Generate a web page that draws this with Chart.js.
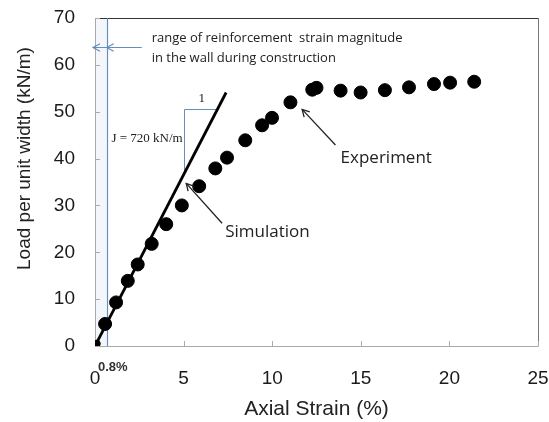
<!DOCTYPE html>
<html><head><meta charset="utf-8">
<script src="https://cdn.jsdelivr.net/npm/chart.js@4"></script>
<style>html,body{margin:0;padding:0;background:#fff}#wrap{width:549px;height:422px}</style>
</head><body><div id="wrap"><canvas id="c" width="549" height="422"></canvas></div>
<script>
const expStrain = [0.1, 0.57, 1.19, 1.85, 2.41, 3.2, 4.02, 4.9, 5.88, 6.79, 7.45, 8.48, 9.43, 9.99, 11.03, 12.26, 12.5, 13.86, 14.99, 16.36, 17.72, 19.13, 20.04, 21.4];
const expLoad   = [0.5, 4.7, 9.3, 13.9, 17.4, 21.8, 26.0, 30.0, 34.1, 37.9, 40.2, 43.9, 47.1, 48.7, 52.0, 54.7, 55.1, 54.5, 54.1, 54.6, 55.2, 55.9, 56.2, 56.4];
const simStrain = [0, 7.4];
const simLoad   = [0, 54.1];
const xTicks = [0, 5, 10, 15, 20, 25];
const yTicks = [0, 10, 20, 30, 40, 50, 60, 70];
const constructionStrain = 0.66;
const yTitle = 'Load per unit width (kN/m)';
const xTitle = 'Axial Strain (%)';

const expPts = expStrain.map((x, i) => ({x, y: expLoad[i]}));
const simPts = simStrain.map((x, i) => ({x, y: simLoad[i]}));

const blue = 'rgb(105,140,190)';
const sans = '"Open Sans", "Liberation Sans", sans-serif';
const arial = '"Liberation Sans", Arial, sans-serif';

function arrowHead(ctx, x1, y1, x2, y2, size) {
  const a = Math.atan2(y2 - y1, x2 - x1);
  ctx.beginPath();
  ctx.moveTo(x2 - size * Math.cos(a - 0.5), y2 - size * Math.sin(a - 0.5));
  ctx.lineTo(x2, y2);
  ctx.lineTo(x2 - size * Math.cos(a + 0.5), y2 - size * Math.sin(a + 0.5));
  ctx.stroke();
}

const decor = {
  id: 'decor',
  beforeDatasetsDraw(chart) {
    const {ctx, chartArea: ca, scales: {x, y}} = chart;
    ctx.save();
    const xc = x.getPixelForValue(constructionStrain);
    ctx.fillStyle = 'rgba(215,228,242,0.3)';
    ctx.fillRect(ca.left, ca.top, xc - ca.left, ca.bottom - ca.top);
    ctx.lineWidth = 1;
    ctx.strokeStyle = '#aaa';
    ctx.beginPath();
    ctx.moveTo(ca.left + 0.5, ca.top); ctx.lineTo(ca.left + 0.5, ca.bottom + 0.5); ctx.lineTo(ca.right, ca.bottom + 0.5);
    ctx.stroke();
    ctx.strokeStyle = '#333';
    ctx.beginPath(); ctx.moveTo(ca.left, ca.top + 0.5); ctx.lineTo(ca.right + 0.5, ca.top + 0.5); ctx.stroke();
    ctx.strokeStyle = '#777';
    ctx.beginPath(); ctx.moveTo(ca.right + 0.5, ca.top); ctx.lineTo(ca.right + 0.5, ca.bottom + 0.5); ctx.stroke();
    ctx.strokeStyle = '#aaa';
    xTicks.forEach(v => { const p = Math.round(x.getPixelForValue(v)) + 0.5; ctx.beginPath(); ctx.moveTo(p, ca.bottom); ctx.lineTo(p, ca.bottom - 5); ctx.stroke(); });
    yTicks.forEach(v => { const p = Math.round(y.getPixelForValue(v)) + 0.5; ctx.beginPath(); ctx.moveTo(ca.left, p); ctx.lineTo(ca.left + 5, p); ctx.stroke(); });
    ctx.strokeStyle = blue;
    ctx.lineWidth = 1.2;
    ctx.beginPath(); ctx.moveTo(Math.round(xc) + 0.5, ca.top); ctx.lineTo(Math.round(xc) + 0.5, ca.bottom); ctx.stroke();
    const ya = Math.round(y.getPixelForValue(63.9)) + 0.5;
    ctx.beginPath(); ctx.moveTo(x.getPixelForValue(0) - 2, ya); ctx.lineTo(x.getPixelForValue(2.64), ya); ctx.stroke();
    arrowHead(ctx, x.getPixelForValue(1), ya, x.getPixelForValue(0) - 2, ya, 8);
    arrowHead(ctx, x.getPixelForValue(1.5), ya, xc, ya, 8);
    const tx = Math.round(x.getPixelForValue(5.05)) + 0.5, ty = Math.round(y.getPixelForValue(50.5)) + 0.5;
    ctx.lineWidth = 1;
    ctx.beginPath(); ctx.moveTo(x.getPixelForValue(6.95), ty); ctx.lineTo(tx, ty); ctx.lineTo(tx, y.getPixelForValue(37)); ctx.stroke();
    ctx.restore();
  },
  afterDatasetsDraw(chart) {
    const {ctx, chartArea: ca, scales: {x, y}} = chart;
    ctx.save();
    ctx.save();
    ctx.translate(25, y.getPixelForValue(40));
    ctx.rotate(-Math.PI / 2);
    ctx.font = '19px ' + arial;
    ctx.fillStyle = '#222';
    ctx.textAlign = 'center'; ctx.textBaseline = 'middle';
    ctx.fillText(yTitle, 0, 0);
    ctx.restore();
    ctx.fillStyle = '#222';
    ctx.textBaseline = 'middle';
    ctx.font = '13px ' + sans;
    ctx.textAlign = 'left';
    ctx.fillText('range of reinforcement  strain magnitude', x.getPixelForValue(3.2), y.getPixelForValue(65.7));
    ctx.fillText('in the wall during construction', x.getPixelForValue(3.2), y.getPixelForValue(61.4));
    ctx.font = '13px "Liberation Serif", serif';
    ctx.textAlign = 'center';
    ctx.fillText('1', x.getPixelForValue(6.03), y.getPixelForValue(52.9));
    ctx.textAlign = 'right';
    ctx.fillText('J = 720 kN/m', x.getPixelForValue(4.95), y.getPixelForValue(44.2));
    ctx.strokeStyle = '#222'; ctx.lineWidth = 1.3;
    let x1 = x.getPixelForValue(7.17), y1 = y.getPixelForValue(26.2), x2 = x.getPixelForValue(5.15), y2 = y.getPixelForValue(34.7);
    ctx.beginPath(); ctx.moveTo(x1, y1); ctx.lineTo(x2, y2); ctx.stroke(); arrowHead(ctx, x1, y1, x2, y2, 8);
    ctx.font = '17px ' + sans; ctx.textAlign = 'left';
    ctx.fillText('Simulation', x.getPixelForValue(7.35), y.getPixelForValue(24.4));
    x1 = x.getPixelForValue(13.57); y1 = y.getPixelForValue(42.9); x2 = x.getPixelForValue(11.69); y2 = y.getPixelForValue(50.5);
    ctx.beginPath(); ctx.moveTo(x1, y1); ctx.lineTo(x2, y2); ctx.stroke(); arrowHead(ctx, x1, y1, x2, y2, 8);
    ctx.fillText('Experiment', x.getPixelForValue(13.86), y.getPixelForValue(40.05));
    ctx.font = 'bold 13px ' + arial;
    ctx.fillStyle = '#333';
    ctx.fillText('0.8%', x.getPixelForValue(0.17), ca.bottom + 21);
    ctx.restore();
  }
};

new Chart(document.getElementById('c'), {
  type: 'scatter',
  data: {
    datasets: [
      {label: 'Simulation', type: 'line', data: simPts, borderColor: '#000', borderWidth: 2.8, pointRadius: 0, fill: false, order: 2},
      {label: 'Experiment', data: expPts, backgroundColor: '#000', borderColor: '#000',
       pointRadius: expStrain.map((v, i) => i === 0 ? 3.5 : 6.5), pointHoverRadius: 6.5, order: 1}
    ]
  },
  options: {
    responsive: false, animation: false,
    layout: {padding: {top: 18, right: 11, left: 0, bottom: 0}},
    plugins: {legend: {display: false}, tooltip: {enabled: false}},
    scales: {
      x: {type: 'linear', min: 0, max: 25,
          afterBuildTicks: s => { s.ticks = xTicks.map(v => ({value: v})); },
          afterFit: s => { s.height = 76; s.paddingLeft = 0; s.paddingRight = 0; },
          grid: {display: false}, border: {display: false},
          ticks: {color: '#1a1a1a', padding: 13, font: {size: 19, family: arial}, maxRotation: 0},
          title: {display: true, text: xTitle, color: '#222', padding: {top: 4, bottom: 0}, font: {size: 21, family: arial}}},
      y: {type: 'linear', min: 0, max: 70,
          afterBuildTicks: s => { s.ticks = yTicks.map(v => ({value: v})); },
          afterFit: s => { s.width = 95; s.paddingTop = 0; s.paddingBottom = 0; },
          grid: {display: false}, border: {display: false},
          ticks: {color: '#1a1a1a', padding: 12, font: {size: 19, family: arial}},
          title: {display: false}}
    }
  },
  plugins: [decor]
});
</script></body></html>
